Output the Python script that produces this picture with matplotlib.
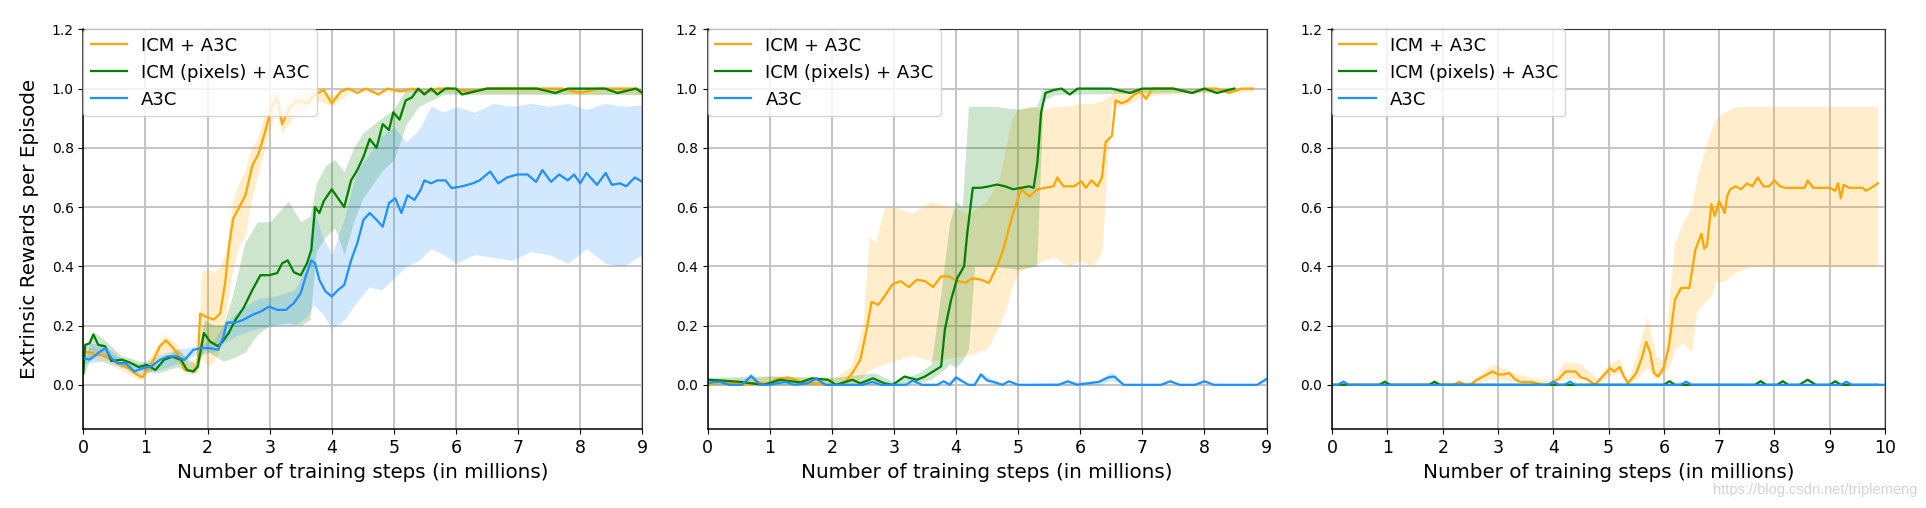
import numpy as np
import matplotlib
matplotlib.use("Agg")
import matplotlib.pyplot as plt

# ----------------------------- DATA -----------------------------
labels = ["ICM + A3C", "ICM (pixels) + A3C", "A3C"]
colors = ["orange", "green", "dodgerblue"]

# Panel 1 - ICM + A3C
p1_icm_x = [0, 0.1, 0.2, 0.3, 0.4, 0.5, 0.6, 0.7, 0.82, 0.95, 1.02, 1.12, 1.23, 1.33, 1.42, 1.5, 1.63, 1.77, 1.84, 1.88,
            1.97, 2.1, 2.2, 2.28, 2.34, 2.41, 2.51, 2.61, 2.72, 2.82, 2.92, 3.02, 3.12, 3.2, 3.33, 3.46, 3.6, 3.73, 3.87, 4.0,
            4.14, 4.27, 4.41, 4.55, 4.75, 4.9, 5.1, 5.3, 5.5, 5.7, 5.9, 6.2, 6.5, 6.8, 7.1, 7.4, 7.7, 8.0, 8.3, 8.6, 8.9, 9.0]
p1_icm_y = [0.11, 0.11, 0.10, 0.10, 0.09, 0.08, 0.07, 0.06, 0.04, 0.025, 0.05, 0.08, 0.13, 0.15, 0.13, 0.11, 0.05, 0.045, 0.07, 0.24,
            0.23, 0.22, 0.24, 0.34, 0.46, 0.56, 0.60, 0.64, 0.74, 0.78, 0.85, 0.93, 0.97, 0.88, 0.94, 0.96, 0.95, 0.98, 0.995, 0.95,
            0.99, 1.0, 0.985, 1.0, 0.98, 1.0, 0.99, 1.0, 0.985, 1.0, 1.0, 0.99, 1.0, 1.0, 1.0, 1.0, 1.0, 0.985, 1.0, 1.0, 1.0, 0.985]
p1_icm_bx = [0, 0.3, 0.6, 0.9, 1.0, 1.3, 1.5, 1.7, 1.85, 1.9, 2.0, 2.1, 2.2, 2.3, 2.4, 2.5, 2.6, 2.7, 2.8, 2.9,
             3.0, 3.1, 3.2, 3.4, 3.6, 3.8, 4.0, 4.3, 9.0]
p1_icm_lo = [0.09, 0.08, 0.05, 0.015, 0.03, 0.1, 0.08, 0.035, 0.04, 0.1, 0.06, 0.08, 0.12, 0.25, 0.38, 0.47, 0.5, 0.62, 0.7, 0.78,
             0.86, 0.92, 0.85, 0.91, 0.93, 0.96, 0.94, 0.99, 0.98]
p1_icm_hi = [0.13, 0.12, 0.09, 0.04, 0.07, 0.17, 0.14, 0.07, 0.1, 0.38, 0.39, 0.38, 0.4, 0.45, 0.62, 0.68, 0.72, 0.8, 0.83, 0.9,
             0.97, 1.0, 0.93, 0.98, 0.98, 1.0, 0.98, 1.0, 1.0]

# Panel 1 - ICM (pixels) + A3C
p1_pix_x = [0, 0.03, 0.1, 0.16, 0.24, 0.35, 0.45, 0.62, 0.75, 0.89, 1.02, 1.16, 1.3, 1.43, 1.57, 1.67, 1.77, 1.84, 1.94, 2.04,
            2.17, 2.24, 2.34, 2.45, 2.58, 2.72, 2.85, 2.99, 3.12, 3.2, 3.29, 3.39, 3.5, 3.6, 3.67, 3.73, 3.8, 3.87, 4.0, 4.1,
            4.2, 4.31, 4.41, 4.51, 4.61, 4.72, 4.82, 4.92, 4.99, 5.09, 5.19, 5.29, 5.39, 5.49, 5.6, 5.7, 5.83, 6.0, 6.1, 6.3,
            6.5, 6.7, 7.0, 7.3, 7.6, 7.8, 8.1, 8.4, 8.6, 8.9, 9.0]
p1_pix_y = [0.04, 0.135, 0.14, 0.17, 0.135, 0.13, 0.08, 0.085, 0.075, 0.06, 0.067, 0.05, 0.085, 0.095, 0.085, 0.05, 0.045, 0.06, 0.175, 0.146,
            0.13, 0.146, 0.175, 0.22, 0.26, 0.32, 0.37, 0.37, 0.377, 0.41, 0.42, 0.38, 0.37, 0.41, 0.455, 0.60, 0.58, 0.62, 0.66, 0.63,
            0.60, 0.69, 0.725, 0.77, 0.83, 0.80, 0.88, 0.86, 0.92, 0.895, 0.96, 0.97, 1.0, 0.98, 1.0, 0.98, 1.0, 1.0, 0.98, 0.99,
            1.0, 1.0, 1.0, 1.0, 0.985, 1.0, 1.0, 1.0, 0.985, 1.0, 0.985]
p1_pix_bx = [0, 0.15, 0.3, 0.6, 0.9, 1.2, 1.5, 1.8, 1.95, 2.1, 2.25, 2.4, 2.6, 2.8, 3.0, 3.3, 3.5, 3.65, 3.75, 3.9,
             4.05, 4.2, 4.35, 4.5, 4.8, 5.0, 5.2, 5.4, 5.6, 5.8, 9.0]
p1_pix_lo = [0.03, 0.11, 0.1, 0.06, 0.05, 0.04, 0.06, 0.04, 0.12, 0.1, 0.08, 0.09, 0.11, 0.17, 0.2, 0.21, 0.2, 0.22, 0.45, 0.5,
             0.53, 0.44, 0.55, 0.63, 0.72, 0.76, 0.88, 0.94, 0.96, 0.98, 0.98]
p1_pix_hi = [0.06, 0.18, 0.16, 0.1, 0.08, 0.07, 0.12, 0.07, 0.22, 0.2, 0.2, 0.3, 0.48, 0.55, 0.55, 0.62, 0.55, 0.57, 0.68, 0.74,
             0.76, 0.72, 0.8, 0.85, 0.9, 0.93, 1.0, 1.0, 1.0, 1.0, 1.0]

# Panel 1 - A3C
p1_a3c_x = [0, 0.1, 0.24, 0.35, 0.45, 0.55, 0.68, 0.82, 0.95, 1.09, 1.23, 1.36, 1.5, 1.63, 1.77, 1.9, 2.04, 2.17, 2.25, 2.31,
            2.45, 2.58, 2.72, 2.85, 2.99, 3.12, 3.26, 3.39, 3.5, 3.58, 3.67, 3.73, 3.8, 3.9, 4.0, 4.1, 4.2, 4.31, 4.41, 4.51,
            4.61, 4.72, 4.82, 4.92, 5.02, 5.12, 5.22, 5.33, 5.43, 5.49, 5.6, 5.7, 5.83, 5.93, 6.1, 6.27, 6.38, 6.55, 6.68, 6.82,
            6.99, 7.15, 7.29, 7.39, 7.53, 7.66, 7.8, 7.9, 8.0, 8.1, 8.27, 8.41, 8.51, 8.64, 8.74, 8.88, 9.0]
p1_a3c_y = [0.09, 0.085, 0.107, 0.124, 0.09, 0.073, 0.073, 0.045, 0.056, 0.062, 0.084, 0.096, 0.096, 0.084, 0.118, 0.124, 0.124, 0.118, 0.16, 0.21,
            0.21, 0.22, 0.236, 0.247, 0.264, 0.253, 0.253, 0.276, 0.31, 0.366, 0.42, 0.41, 0.354, 0.315, 0.298, 0.32, 0.337, 0.42, 0.478, 0.557,
            0.58, 0.557, 0.534, 0.613, 0.63, 0.58, 0.64, 0.624, 0.658, 0.69, 0.68, 0.69, 0.69, 0.664, 0.67, 0.68, 0.69, 0.72, 0.68, 0.70,
            0.71, 0.71, 0.685, 0.725, 0.685, 0.71, 0.69, 0.71, 0.68, 0.715, 0.675, 0.715, 0.675, 0.68, 0.67, 0.70, 0.685]
p1_a3c_bx = [0, 0.3, 0.6, 0.9, 1.2, 1.5, 1.8, 2.1, 2.25, 2.5, 2.8, 3.1, 3.4, 3.6, 3.7, 3.85, 4.0, 4.2, 4.4, 4.6,
             4.8, 5.0, 5.2, 5.4, 5.6, 5.8, 6.0, 6.3, 6.6, 6.9, 7.2, 7.5, 7.8, 8.1, 8.4, 8.7, 9.0]
p1_a3c_lo = [0.07, 0.08, 0.06, 0.035, 0.05, 0.07, 0.1, 0.11, 0.14, 0.17, 0.19, 0.2, 0.2, 0.23, 0.27, 0.24, 0.19, 0.22, 0.28, 0.33,
             0.32, 0.36, 0.4, 0.42, 0.46, 0.44, 0.41, 0.44, 0.43, 0.42, 0.45, 0.44, 0.41, 0.46, 0.41, 0.40, 0.44]
p1_a3c_hi = [0.14, 0.14, 0.09, 0.07, 0.1, 0.12, 0.13, 0.15, 0.2, 0.25, 0.29, 0.3, 0.32, 0.4, 0.6, 0.5, 0.44, 0.56, 0.72, 0.78,
             0.84, 0.87, 0.82, 0.86, 0.94, 0.92, 0.94, 0.92, 0.95, 0.94, 0.95, 0.94, 0.95, 0.93, 0.95, 0.94, 0.945]

# Panel 2 - ICM + A3C
p2_icm_x = [0, 0.2, 0.4, 0.6, 0.8, 1.0, 1.1, 1.3, 1.5, 1.7, 1.9, 2.1, 2.2, 2.33, 2.46, 2.56, 2.64, 2.75, 2.85, 2.98,
            3.11, 3.24, 3.37, 3.5, 3.63, 3.76, 3.89, 4.02, 4.15, 4.27, 4.4, 4.53, 4.66, 4.76, 4.86, 4.95, 5.05, 5.18, 5.31, 5.44,
            5.57, 5.63, 5.73, 5.9, 6.02, 6.09, 6.18, 6.28, 6.35, 6.41, 6.51, 6.57, 6.67, 6.77, 6.87, 6.96, 7.06, 7.16, 7.25, 7.5,
            7.8, 8.0, 8.2, 8.4, 8.6, 8.78]
p2_icm_y = [0.0, 0.01, 0.005, 0.0, 0.01, 0.0, 0.02, 0.025, 0.01, 0.005, 0.0, 0.0, 0.005, 0.04, 0.085, 0.186, 0.28, 0.27, 0.30, 0.34,
            0.35, 0.33, 0.355, 0.35, 0.33, 0.366, 0.366, 0.35, 0.345, 0.36, 0.355, 0.344, 0.40, 0.456, 0.535, 0.60, 0.66, 0.636, 0.66, 0.665,
            0.67, 0.70, 0.67, 0.67, 0.687, 0.665, 0.69, 0.67, 0.70, 0.82, 0.84, 0.96, 0.95, 0.96, 0.98, 0.99, 0.965, 1.0, 1.0, 1.0,
            0.985, 1.0, 1.0, 0.985, 1.0, 1.0]
p2_icm_bx = [0, 1.0, 2.0, 2.3, 2.5, 2.6, 2.7, 2.85, 3.0, 3.3, 3.6, 3.9, 4.2, 4.5, 4.7, 4.8, 4.9, 5.0, 5.2, 5.4,
             5.6, 5.8, 6.0, 6.2, 6.35, 6.5, 6.6, 6.8, 7.0, 7.3, 8.78]
p2_icm_lo = [0.0, 0.0, 0.0, 0.0, 0.03, 0.05, 0.06, 0.07, 0.08, 0.1, 0.08, 0.09, 0.1, 0.12, 0.2, 0.25, 0.33, 0.38, 0.4, 0.42,
             0.43, 0.4, 0.42, 0.4, 0.45, 0.95, 0.94, 0.95, 0.97, 0.98, 0.99]
p2_icm_hi = [0.01, 0.03, 0.02, 0.06, 0.2, 0.5, 0.48, 0.6, 0.6, 0.58, 0.62, 0.6, 0.58, 0.62, 0.7, 0.8, 0.9, 0.93, 0.94, 0.93,
             0.94, 0.94, 0.95, 0.95, 0.96, 0.98, 1.0, 1.0, 1.0, 1.0, 1.0]

# Panel 2 - ICM (pixels) + A3C
p2_pix_x = [0, 0.2, 0.52, 0.9, 1.17, 1.49, 1.68, 1.94, 2.07, 2.33, 2.46, 2.66, 2.85, 2.98, 3.17, 3.37, 3.5, 3.63, 3.76, 3.82,
            3.92, 4.02, 4.13, 4.18, 4.27, 4.4, 4.53, 4.66, 4.79, 4.92, 5.05, 5.18, 5.25, 5.31, 5.37, 5.44, 5.57, 5.7, 5.83, 5.96,
            6.2, 6.5, 6.8, 7.0, 7.2, 7.5, 7.8, 8.0, 8.2, 8.48]
p2_pix_y = [0.017, 0.015, 0.01, 0.0, 0.017, 0.008, 0.022, 0.017, 0.0, 0.017, 0.005, 0.022, 0.005, 0.0, 0.028, 0.017, 0.028, 0.045, 0.062, 0.186,
            0.287, 0.36, 0.40, 0.51, 0.665, 0.665, 0.67, 0.676, 0.67, 0.66, 0.665, 0.67, 0.665, 0.75, 0.92, 0.985, 0.995, 1.0, 0.98, 1.0,
            1.0, 1.0, 0.985, 1.0, 1.0, 1.0, 0.985, 1.0, 0.985, 1.0]
p2_pix_bx = [0, 1.0, 2.0, 2.7, 3.0, 3.4, 3.6, 3.75, 3.9, 4.0, 4.1, 4.2, 4.3, 4.6, 5.0, 5.3, 5.4, 5.6, 8.48]
p2_pix_lo = [0.0, 0.0, 0.0, 0.0, 0.0, 0.005, 0.02, 0.04, 0.07, 0.06, 0.08, 0.12, 0.4, 0.4, 0.39, 0.4, 0.96, 0.98, 0.99]
p2_pix_hi = [0.025, 0.03, 0.025, 0.04, 0.01, 0.04, 0.07, 0.3, 0.55, 0.62, 0.6, 0.94, 0.94, 0.94, 0.93, 0.94, 1.0, 1.0, 1.0]

# Panel 2 - A3C
p2_a3c_x = [0, 0.1, 0.2, 0.35, 0.55, 0.7, 0.85, 1.0, 1.25, 1.4, 1.6, 1.75, 1.9, 2.2, 2.5, 2.65, 2.8, 3.2, 3.3, 3.45,
            3.7, 3.8, 3.9, 4.0, 4.2, 4.3, 4.4, 4.5, 4.6, 4.75, 4.85, 5.0, 5.65, 5.8, 5.95, 6.3, 6.45, 6.55, 6.7, 7.3,
            7.45, 7.6, 7.85, 8.0, 8.15, 8.85, 9.0]
p2_a3c_y = [0.005, 0.01, 0.01, 0.0, 0.0, 0.03, 0.0, 0.0, 0.01, 0.0, 0.005, 0.02, 0.0, 0.0, 0.0, 0.01, 0.0, 0.0, 0.015, 0.0,
            0.0, 0.012, 0.0, 0.025, 0.0, 0.0, 0.035, 0.015, 0.01, 0.0, 0.012, 0.0, 0.0, 0.012, 0.0, 0.01, 0.025, 0.028, 0.0, 0.0,
            0.012, 0.0, 0.0, 0.012, 0.0, 0.0, 0.02]
p2_a3c_bx = [0, 0.2, 0.35, 0.55, 0.7, 0.85, 3.8, 4.0, 4.2, 4.3, 4.4, 4.55, 4.7, 6.3, 6.5, 6.7, 8.85, 9.0]
p2_a3c_lo = [0, 0.005, 0, 0, 0.02, 0, 0, 0.015, 0, 0, 0.025, 0.005, 0, 0, 0.015, 0, 0, 0.01]
p2_a3c_hi = [0.015, 0.02, 0.005, 0, 0.042, 0, 0, 0.032, 0, 0.005, 0.042, 0.022, 0, 0.015, 0.045, 0, 0, 0.028]

# Panel 3 - ICM + A3C
p3_icm_x = [0, 1.0, 2.2, 2.3, 2.4, 2.5, 2.6, 2.75, 2.9, 3.0, 3.1, 3.2, 3.3, 3.4, 3.5, 3.6, 3.8, 3.9, 4.0, 4.1,
            4.22, 4.4, 4.5, 4.6, 4.75, 4.9, 5.03, 5.1, 5.2, 5.27, 5.35, 5.5, 5.6, 5.68, 5.75, 5.82, 5.9, 6.0, 6.09, 6.2,
            6.31, 6.46, 6.57, 6.68, 6.73, 6.78, 6.86, 6.92, 7.0, 7.1, 7.15, 7.2, 7.3, 7.4, 7.5, 7.6, 7.7, 7.8, 7.9, 8.0,
            8.1, 8.2, 8.4, 8.55, 8.6, 8.7, 9.0, 9.1, 9.15, 9.2, 9.25, 9.35, 9.6, 9.65, 9.75, 9.87]
p3_icm_y = [0.0, 0.0, 0.0, 0.01, 0.0, 0.0, 0.015, 0.03, 0.045, 0.035, 0.035, 0.04, 0.02, 0.01, 0.01, 0.01, 0.0, 0.0, 0.01, 0.02,
            0.045, 0.045, 0.025, 0.02, 0.0, 0.03, 0.056, 0.045, 0.06, 0.03, 0.005, 0.04, 0.09, 0.145, 0.11, 0.04, 0.028, 0.06, 0.13, 0.287,
            0.327, 0.327, 0.456, 0.51, 0.46, 0.47, 0.61, 0.57, 0.62, 0.58, 0.64, 0.66, 0.67, 0.66, 0.68, 0.67, 0.70, 0.67, 0.67, 0.69,
            0.67, 0.665, 0.665, 0.665, 0.69, 0.665, 0.665, 0.655, 0.68, 0.63, 0.675, 0.665, 0.665, 0.655, 0.665, 0.68]
p3_icm_bx = [0, 2.5, 2.9, 3.3, 3.7, 4.0, 4.2, 4.5, 4.8, 5.0, 5.2, 5.35, 5.5, 5.7, 5.85, 6.0, 6.1, 6.2, 6.35, 6.5,
             6.6, 6.75, 6.85, 6.95, 7.1, 7.3, 7.6, 8.0, 8.5, 9.0, 9.5, 9.87]
p3_icm_lo = [0, 0, 0.02, 0.01, 0.0, 0.0, 0.02, 0.02, 0.0, 0.03, 0.04, 0.0, 0.02, 0.06, 0.02, 0.04, 0.06, 0.12, 0.14, 0.11,
             0.25, 0.28, 0.3, 0.35, 0.35, 0.38, 0.4, 0.4, 0.4, 0.4, 0.4, 0.4]
p3_icm_hi = [0.005, 0.01, 0.07, 0.04, 0.02, 0.02, 0.08, 0.07, 0.02, 0.07, 0.09, 0.01, 0.1, 0.23, 0.1, 0.08, 0.3, 0.48, 0.55, 0.6,
             0.7, 0.8, 0.86, 0.9, 0.92, 0.94, 0.94, 0.94, 0.94, 0.94, 0.94, 0.94]

# Panel 3 - ICM (pixels) + A3C
p3_pix_x = [0, 0.85, 0.95, 1.05, 1.75, 1.85, 1.95, 6.0, 6.1, 6.2, 7.65, 7.75, 7.85, 8.05, 8.15, 8.25, 8.45, 8.6, 8.75, 9.0,
            9.1, 9.2, 9.87]
p3_pix_y = [0, 0, 0.01, 0, 0, 0.01, 0, 0, 0.012, 0, 0, 0.012, 0, 0, 0.012, 0, 0, 0.017, 0, 0, 0.012, 0, 0]
p3_pix_hi = [0, 0, 0.02, 0, 0, 0.02, 0, 0, 0.02, 0, 0, 0.022, 0, 0, 0.02, 0, 0, 0.025, 0, 0, 0.02, 0, 0]

# Panel 3 - A3C
p3_a3c_x = [0, 0.1, 0.2, 0.3, 3.9, 4.0, 4.1, 4.2, 4.3, 4.4, 6.3, 6.4, 6.5, 9.2, 9.3, 9.4, 10.0]
p3_a3c_y = [0, 0, 0.01, 0, 0, 0.01, 0, 0, 0.01, 0, 0, 0.01, 0, 0, 0.01, 0, 0]
p3_a3c_hi = [0, 0, 0.022, 0, 0, 0.02, 0, 0, 0.02, 0, 0, 0.02, 0, 0, 0.02, 0, 0]

xmax = [9, 9, 10]
yticks = [0.0, 0.2, 0.4, 0.6, 0.8, 1.0, 1.2]

# ----------------------------- PLOTTING -----------------------------
fig = plt.figure(figsize=(19.26, 5.08), dpi=100)

# axes positions in figure fractions [left, bottom, width, height]
positions = [[0.0433, 0.155, 0.2902, 0.7873],
             [0.3674, 0.155, 0.2902, 0.7873],
             [0.6917, 0.155, 0.2870, 0.7873]]

panels = [
    [(p1_icm_x, p1_icm_y, p1_icm_bx, p1_icm_lo, p1_icm_hi),
     (p1_pix_x, p1_pix_y, p1_pix_bx, p1_pix_lo, p1_pix_hi),
     (p1_a3c_x, p1_a3c_y, p1_a3c_bx, p1_a3c_lo, p1_a3c_hi)],
    [(p2_icm_x, p2_icm_y, p2_icm_bx, p2_icm_lo, p2_icm_hi),
     (p2_pix_x, p2_pix_y, p2_pix_bx, p2_pix_lo, p2_pix_hi),
     (p2_a3c_x, p2_a3c_y, p2_a3c_bx, p2_a3c_lo, p2_a3c_hi)],
    [(p3_icm_x, p3_icm_y, p3_icm_bx, p3_icm_lo, p3_icm_hi),
     (p3_pix_x, p3_pix_y, p3_pix_x, p3_pix_y, p3_pix_hi),
     (p3_a3c_x, p3_a3c_y, p3_a3c_x, p3_a3c_y, p3_a3c_hi)],
]

for i, series in enumerate(panels):
    ax = fig.add_axes(positions[i])
    ax.set_axisbelow(True)
    ax.grid(True, color="#c4c4c4", linewidth=1.4)

    for (x, y, bx, lo, hi), color, label in zip(series, colors, labels):
        ax.fill_between(bx, lo, hi, color=color, alpha=0.2, linewidth=0)
        ax.plot(x, y, color=color, linewidth=1.6, label=label)

    ax.set_xlim(0, xmax[i])
    ax.set_ylim(-0.15, 1.2)
    ax.set_xticks(range(0, xmax[i] + 1))
    ax.set_yticks(yticks)
    ax.set_yticklabels([f"{v:.1f}" for v in yticks])
    ax.tick_params(axis="x", labelsize=12.5)
    ax.tick_params(axis="y", labelsize=10)
    for side in ["left", "bottom"]:
        ax.spines[side].set_linewidth(1.1)
    for side in ["top", "right"]:
        ax.spines[side].set_color("#333333")

    ax.set_xlabel("Number of training steps (in millions)", fontsize=14.3, labelpad=4)
    if i == 0:
        ax.set_ylabel("Extrinsic Rewards per Episode", fontsize=14.3, labelpad=9)

    ax.legend(loc="upper left", fontsize=13, borderaxespad=0.0, framealpha=0.8)

# site watermark in the corner
fig.text(0.9955, 0.035, "https://blog.csdn.net/triplemeng", ha="right", va="center",
         fontsize=10.5, color="#d4d4d4", family="Liberation Sans")

plt.savefig("out.png", dpi=100)
plt.close()
